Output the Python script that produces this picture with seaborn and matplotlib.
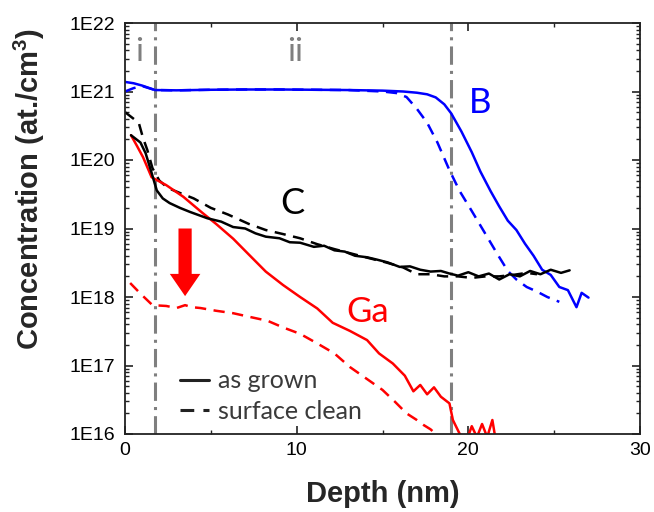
import numpy as np
import pandas as pd
import matplotlib
matplotlib.use("Agg")
import matplotlib.pyplot as plt
import seaborn as sns
from matplotlib.lines import Line2D
from matplotlib.ticker import FixedLocator, LogLocator, NullFormatter, MultipleLocator

# ---------------- data ----------------
b_grown_depth = [0, 0.5, 1.0, 1.75, 3, 5, 7, 9, 11, 13, 15, 16.2, 17.0, 17.6, 18.1, 18.6, 19.0,
                 19.6, 20.2, 20.7, 21.3, 21.8, 22.3, 22.8, 23.3, 23.8, 24.3, 24.8, 25.3, 25.8,
                 26.3, 26.6, 27.0]
b_grown_conc = [1.38e21, 1.32e21, 1.22e21, 1.05e21, 1.04e21, 1.06e21, 1.07e21, 1.07e21, 1.06e21,
                1.05e21, 1.03e21, 1.0e21, 9.6e20, 9.1e20, 8.2e20, 6.5e20, 4.8e20, 2.6e20, 1.3e20,
                6.8e19, 3.5e19, 2.1e19, 1.3e19, 9.5e18, 6.0e18, 4.0e18, 2.5e18, 2.1e18, 1.4e18,
                1.26e18, 7.1e17, 1.15e18, 9.8e17]

b_clean_depth = [0, 0.5, 1.0, 1.75, 3, 5, 7, 9, 11, 13, 15.0, 15.8, 16.4, 17.0, 17.6, 18.2, 18.9,
                 19.5, 20.2, 21.0, 21.7, 22.3, 22.8, 23.4, 24.0, 24.6, 25.3]
b_clean_conc = [1.0e21, 1.12e21, 1.2e21, 1.05e21, 1.04e21, 1.06e21, 1.07e21, 1.07e21, 1.06e21,
                1.05e21, 1.0e21, 9.5e20, 8.3e20, 5.6e20, 3.5e20, 1.8e20, 7.1e19, 3.5e19, 1.8e19,
                8.3e18, 4.2e18, 2.4e18, 1.8e18, 1.4e18, 1.2e18, 1.0e18, 8.5e17]

c_grown_depth = [0.35, 0.9, 1.2, 1.55, 1.85, 2.2, 2.6, 3.2, 3.8, 4.8, 5.6, 6.3, 7.0, 7.6, 8.2, 9.0,
                 9.6, 10.2, 11.0, 11.6, 12.2, 12.8, 13.4, 14.1, 14.7, 15.3, 16.0, 16.6, 17.2, 17.8,
                 18.4, 18.9, 19.4, 20.0, 20.6, 21.2, 21.8, 22.4, 23.0, 23.6, 24.2, 24.8, 25.4, 25.9]
c_grown_conc = [2.3e20, 1.8e20, 1.26e20, 6.5e19, 3.6e19, 2.75e19, 2.35e19, 2.0e19, 1.74e19, 1.41e19,
                1.26e19, 1.05e19, 1.0e19, 8.5e18, 7.6e18, 7.2e18, 6.3e18, 6.2e18, 5.4e18, 5.6e18,
                4.8e18, 4.6e18, 4.0e18, 3.8e18, 3.5e18, 3.2e18, 2.75e18, 2.8e18, 2.5e18, 2.35e18,
                2.4e18, 2.2e18, 2.05e18, 2.3e18, 2.0e18, 2.2e18, 1.8e18, 2.15e18, 2.0e18, 2.4e18,
                2.15e18, 2.5e18, 2.25e18, 2.45e18]

c_clean_depth = [0.0, 0.8, 1.05, 1.3, 1.6, 2.0, 2.5, 3.2, 4.0, 5.0, 6.0, 7.2, 8.2, 9.2, 10.2, 11.2,
                 12.2, 13.2, 14.2, 15.2, 16.2, 17.0, 17.8, 18.6, 19.4, 20.2, 21.0, 21.8, 22.6,
                 23.4, 24.0]
c_clean_conc = [5.0e20, 3.5e20, 2.1e20, 1.4e20, 7.6e19, 5.0e19, 3.9e19, 3.3e19, 2.75e19, 2.0e19,
                1.6e19, 1.17e19, 9.5e18, 8.3e18, 7.2e18, 5.9e18, 5.0e18, 4.3e18, 3.7e18, 3.2e18,
                2.7e18, 2.15e18, 2.15e18, 2.0e18, 2.0e18, 1.9e18, 2.0e18, 2.0e18, 2.1e18, 2.25e18,
                2.15e18]

ga_grown_depth = [0.35, 0.7, 1.05, 1.55, 2.4, 3.4, 4.5, 5.3, 6.3, 7.2, 8.2, 9.2, 10.2, 11.2, 12.1,
                  13.1, 14.1, 14.8, 15.6, 16.3, 16.8, 17.2, 17.6, 18.0, 18.4, 18.9, 19.1, 19.5,
                  19.9, 20.2, 20.5, 20.8, 21.1, 21.4, 21.6]
ga_grown_conc = [2.3e20, 1.6e20, 1.1e20, 5.6e19, 4.3e19, 2.9e19, 1.7e19, 1.17e19, 7.1e18, 4.2e18,
                 2.35e18, 1.5e18, 1.0e18, 6.8e17, 4.2e17, 3.2e17, 2.35e17, 1.5e17, 1.07e17, 7.1e16,
                 4.2e16, 5.2e16, 3.8e16, 4.8e16, 3.5e16, 2.8e16, 1.6e16, 1.0e16, 8e15, 1.3e16,
                 9e15, 1.4e16, 9e15, 1.6e16, 8e15]

ga_clean_depth = [0.3, 0.9, 1.6, 2.4, 3.0, 3.5, 3.9, 4.4, 5.3, 6.3, 7.3, 8.3, 9.2, 10.2, 11.2, 12.2,
                  13.1, 14.0, 15.0, 15.7, 16.4, 17.0, 17.4, 17.8, 18.2, 18.6]
ga_clean_conc = [1.6e18, 1.12e18, 7.6e17, 7.4e17, 6.9e17, 7.6e17, 7.1e17, 6.9e17, 6.3e17, 5.8e17,
                 5.1e17, 4.5e17, 3.6e17, 2.9e17, 2.1e17, 1.5e17, 9.5e16, 6.6e16, 4.4e16, 3.0e16,
                 2.0e16, 1.6e16, 1.35e16, 1.17e16, 9.5e15, 8e15]

region_bounds = [1.75, 19.0]
region_labels = ["i", "ii"]
xtick_values = [0, 10, 20, 30]
ytick_values = [1e16, 1e17, 1e18, 1e19, 1e20, 1e21, 1e22]
ytick_labels = ["1E16", "1E17", "1E18", "1E19", "1E20", "1E21", "1E22"]
legend_labels = ["as grown", "surface clean"]

# ---------------- style ----------------
sns.set_style("ticks")
plt.rcParams["font.family"] = ["Liberation Sans", "DejaVu Sans"]
plt.rcParams["mathtext.fontset"] = "custom"
plt.rcParams["mathtext.rm"] = "Liberation Sans"
plt.rcParams["mathtext.bf"] = "Liberation Sans:bold"

BLUE = "#0000ff"
RED = "#ff0000"
BLACK = "#000000"
GRAY = "#7f7f7f"
LW = 1.8
DASH = (0, (4.5, 3))

fig = plt.figure(figsize=(6.54, 5.12), dpi=100)
ax = fig.add_axes([125 / 654, 1 - 434 / 512, 515 / 654, 411 / 512])

def draw(depth, conc, color, ls):
    df = pd.DataFrame({"depth": depth, "conc": conc})
    sns.lineplot(data=df, x="depth", y="conc", ax=ax, color=color, lw=LW,
                 linestyle=ls, estimator=None, sort=False, legend=False)

draw(b_clean_depth, b_clean_conc, BLUE, DASH)
draw(c_clean_depth, c_clean_conc, BLACK, DASH)
draw(ga_clean_depth, ga_clean_conc, RED, DASH)
draw(b_grown_depth, b_grown_conc, BLUE, "-")
draw(ga_grown_depth, ga_grown_conc, RED, "-")
draw(c_grown_depth, c_grown_conc, BLACK, "-")

for xb in region_bounds:
    ax.axvline(xb, color=GRAY, lw=2.2, linestyle=(0, (6, 2.0, 1, 2.0)), zorder=1)

ax.set_yscale("log")
ax.set_xlim(0, 30)
ax.set_ylim(1e16, 1e22)

ax.xaxis.set_major_locator(FixedLocator(xtick_values))
ax.xaxis.set_minor_locator(MultipleLocator(5))
ax.set_xticklabels([str(v) for v in xtick_values])
ax.yaxis.set_major_locator(FixedLocator(ytick_values))
ax.yaxis.set_minor_locator(LogLocator(base=10, subs=np.arange(2, 10)))
ax.yaxis.set_minor_formatter(NullFormatter())
ax.set_yticklabels(ytick_labels)

ax.tick_params(which="both", direction="in", top=True, right=True, colors="#222222",
               labelcolor="black", labelsize=14)
ax.tick_params(which="major", length=6, width=1.2)
ax.tick_params(which="minor", length=3, width=1.0)
ax.tick_params(axis="x", pad=6)
ax.tick_params(axis="y", pad=7)
for s in ax.spines.values():
    s.set_linewidth(1.3)
    s.set_color("#222222")

ax.set_xlabel("Depth (nm)", fontsize=21, fontweight="bold")
ax.set_ylabel(r"Concentration (at./cm$^{\mathbf{3}}$)", fontsize=21, fontweight="bold")
ax.xaxis.set_label_coords(0.5, -0.112)
ax.yaxis.set_label_coords(-0.152, 0.596)

# annotations
ann_font = ["Lato", "DejaVu Sans"]
ax.text(0.82, 10 ** 21.58, region_labels[0], color=GRAY, fontsize=24, family=ann_font,
        ha="center", va="center")
ax.text(9.9, 10 ** 21.58, region_labels[1], color=GRAY, fontsize=24, family=ann_font,
        ha="center", va="center")
ax.text(20.68, 10 ** 20.83, "B", color=BLUE, fontsize=25, family=ann_font, ha="center", va="center")
ax.text(9.76, 10 ** 19.37, "C", color=BLACK, fontsize=26, family=ann_font, ha="center", va="center")
ax.text(14.15, 10 ** 17.78, "Ga", color=RED, fontsize=25, family=ann_font, ha="center", va="center")

ax.annotate("", xy=(3.5, 1.03e18), xytext=(3.5, 1.0e19),
            arrowprops=dict(arrowstyle="simple,head_length=1.6,head_width=2.2,tail_width=0.95",
                            mutation_scale=10, color=RED, shrinkA=0, shrinkB=0, lw=0))

handles = [Line2D([], [], color="#222222", lw=2.2, linestyle="-"),
           Line2D([], [], color="#222222", lw=2.2, linestyle=(0, (4.5, 3)))]
leg = ax.legend(handles, legend_labels, loc="center left", bbox_to_anchor=(0.107, 0.092),
                frameon=False, borderpad=0, borderaxespad=0, handlelength=1.15,
                handletextpad=0.35, labelspacing=0.3,
                prop={"family": ann_font, "size": 18})
for t in leg.get_texts():
    t.set_color("#3a3a3a")

fig.savefig("out.png", dpi=100)
